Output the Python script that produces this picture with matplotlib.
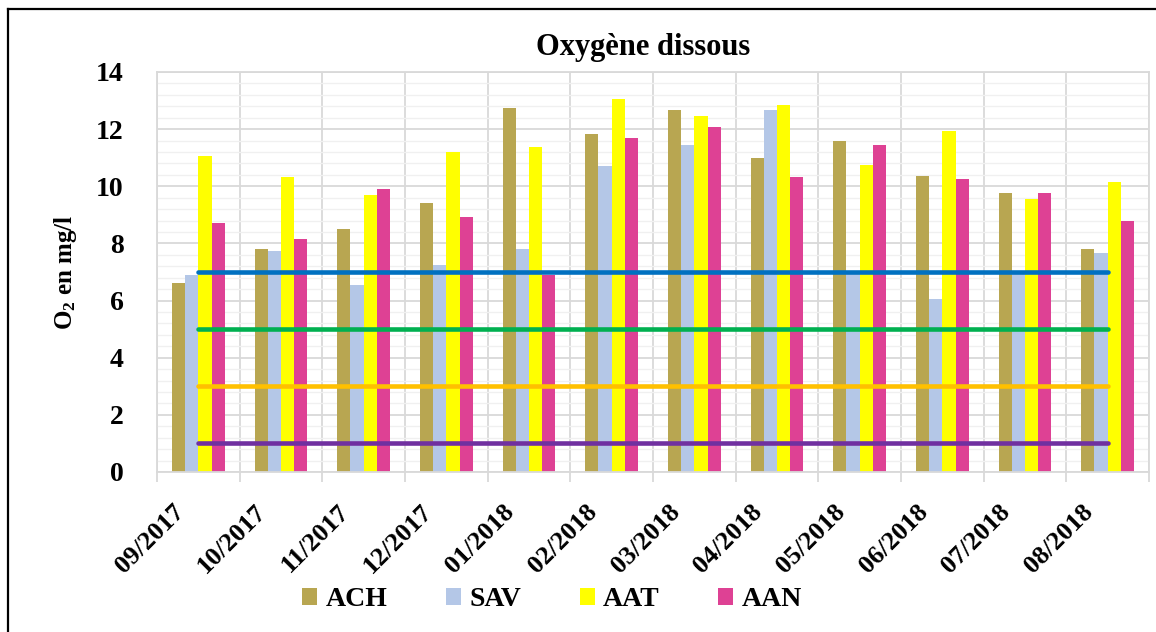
import numpy as np
import matplotlib
matplotlib.use("Agg")
import matplotlib.pyplot as plt
from matplotlib.lines import Line2D
from matplotlib.transforms import ScaledTranslation

plt.rcParams['font.family'] = ['Liberation Serif', 'DejaVu Serif']
plt.rcParams['font.weight'] = 'bold'
plt.rcParams['mathtext.fontset'] = 'custom'
plt.rcParams['mathtext.rm'] = 'Liberation Serif:bold'
plt.rcParams['mathtext.default'] = 'regular'

# donnees
mois = ['09/2017', '10/2017', '11/2017', '12/2017', '01/2018', '02/2018',
        '03/2018', '04/2018', '05/2018', '06/2018', '07/2018', '08/2018']
ACH = [6.60, 7.79, 8.49, 9.42, 12.73, 11.83, 12.68, 10.98, 11.58, 10.35, 9.75, 7.82]
SAV = [6.89, 7.74, 6.53, 7.23, 7.82, 10.71, 11.45, 12.68, 6.95, 6.05, 6.95, 7.68]
AAT = [11.06, 10.31, 9.68, 11.20, 11.38, 13.05, 12.46, 12.83, 10.74, 11.95, 9.57, 10.16]
AAN = [8.71, 8.15, 9.90, 8.91, 6.91, 11.68, 12.09, 10.31, 11.45, 10.24, 9.75, 8.79]

series = ['ACH', 'SAV', 'AAT', 'AAN']
couleurs = ['#B8A651', '#B4C7E7', '#FFFF00', '#DE4194']

# seuils (classes de qualite)
seuils = [7, 5, 3, 1]
couleurs_seuils = ['#0070C0', '#00B050', '#FFC000', '#7030A0']

fig = plt.figure(figsize=(11.56, 6.32), dpi=100)
ax = fig.add_axes([0.1358, 0.2532, 0.8581, 0.6329])

x = np.arange(len(mois))
w = 0.16
for k, (nom, vals) in enumerate(zip(series, [ACH, SAV, AAT, AAN])):
    ax.bar(x + (k - 1.5) * w, vals, w, color=couleurs[k], label=nom, zorder=2)

for s, c in zip(seuils, couleurs_seuils):
    ax.plot([x[0], x[-1]], [s, s], color=c, lw=3.3, solid_capstyle='round', zorder=3)

ax.set_xlim(-0.5, len(mois) - 0.5)
ax.set_ylim(0, 14)
ax.set_yticks(np.arange(0, 15, 2))
ax.set_yticks(np.arange(0, 14.01, 0.4), minor=True)
ax.set_xticks(x)
ax.set_xticks(np.arange(-0.5, len(mois), 1), minor=True)

ax.grid(which='major', axis='y', color='#D9D9D9', lw=1.3, zorder=0)
ax.grid(which='minor', axis='y', color='#F0F0F0', lw=1.0, zorder=0)
ax.grid(which='minor', axis='x', color='#D9D9D9', lw=1.3, zorder=0)
ax.set_axisbelow(True)

for sp in ax.spines.values():
    sp.set_color('#D9D9D9')
    sp.set_linewidth(1.3)

ax.tick_params(axis='y', which='both', length=0, pad=24, labelsize=20)
ax.tick_params(axis='x', which='major', length=0, pad=26, labelsize=19)
ax.tick_params(axis='x', which='minor', length=7, width=1.3, color='#D9D9D9')
ax.set_xticklabels(mois, rotation=45, ha='right', va='center', rotation_mode='anchor')
off = ScaledTranslation(-13 / 72, 0, fig.dpi_scale_trans)
for lab in ax.get_xticklabels():
    lab.set_transform(lab.get_transform() + off)

ax.set_ylabel('O$_2$ en mg/l', fontsize=18, fontweight='bold', labelpad=12)
ax.set_title('Oxygène dissous', fontsize=22, fontweight='bold', pad=12, x=0.49)

fig.legend(loc='center', bbox_to_anchor=(552 / 1156, 1 - 600 / 632), ncol=4,
           frameon=False, fontsize=20, handlelength=0.55, handleheight=0.55,
           handletextpad=0.3, columnspacing=2.1)

# cadre du graphique
fig.add_artist(Line2D([0.0072, 0.0072], [0, 0.986], color='black', lw=1.6,
                      transform=fig.transFigure))
fig.add_artist(Line2D([0.0065, 1], [0.986, 0.986], color='black', lw=1.6,
                      transform=fig.transFigure))

fig.savefig('out.png', dpi=100)
